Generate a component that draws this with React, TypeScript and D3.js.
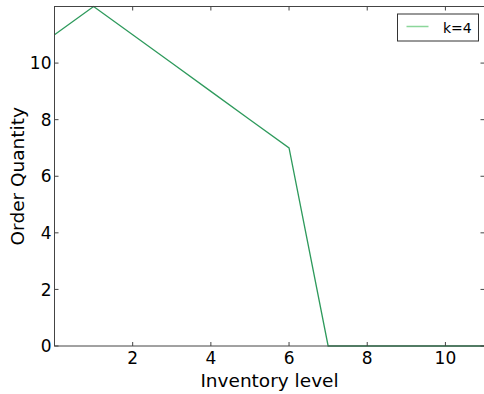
import React, { useRef, useEffect } from 'react';
import * as d3 from 'd3';

const inventory = [0, 1, 2, 3, 4, 5, 6, 7, 8, 9, 10, 11];
const orderQty = [11, 12, 11, 10, 9, 8, 7, 0, 0, 0, 0, 0];
const xTicks = [2, 4, 6, 8, 10];
const yTicks = [0, 2, 4, 6, 8, 10];
const seriesLabel = 'k=4';

const W = 484;
const H = 394;

export default function App() {
  const svgRef = useRef<SVGSVGElement>(null);

  useEffect(() => {
    if (!svgRef.current) return;
    const svg = d3.select(svgRef.current);
    svg.selectAll('*').remove();

    const margin = { top: 6.5, right: -0.5, bottom: 48, left: 54.5 };
    const innerWidth = W - margin.left - margin.right;
    const innerHeight = H - margin.top - margin.bottom;
    const font = 'DejaVu Sans, sans-serif';

    const g = svg.append('g').attr('transform', `translate(${margin.left},${margin.top})`);

    const x = d3.scaleLinear().domain([0, 11]).range([0, innerWidth]);
    const y = d3.scaleLinear().domain([0, 12]).range([innerHeight, 0]);

    // Line
    const line = d3.line<number>()
      .x((_, i) => x(inventory[i]))
      .y(d => y(d));

    g.append('path')
      .datum(orderQty)
      .attr('fill', 'none')
      .attr('stroke', '#2e9a5c')
      .attr('stroke-width', 1.3)
      .attr('d', line);

    // Frame
    g.append('rect')
      .attr('x', 0)
      .attr('y', 0)
      .attr('width', innerWidth)
      .attr('height', innerHeight)
      .attr('fill', 'none')
      .attr('stroke', '#444')
      .attr('stroke-width', 1);

    // Ticks pointing inward
    const tickLen = 4;
    xTicks.forEach(t => {
      g.append('line').attr('x1', x(t)).attr('x2', x(t)).attr('y1', innerHeight).attr('y2', innerHeight - tickLen)
        .attr('stroke', '#444');
      g.append('line').attr('x1', x(t)).attr('x2', x(t)).attr('y1', 0).attr('y2', tickLen)
        .attr('stroke', '#444');
      g.append('text')
        .attr('x', x(t))
        .attr('y', innerHeight + 18)
        .attr('text-anchor', 'middle')
        .attr('font-family', font)
        .attr('font-size', 17)
        .attr('fill', '#000')
        .text(t);
    });
    yTicks.forEach(t => {
      g.append('line').attr('x1', 0).attr('x2', tickLen).attr('y1', y(t)).attr('y2', y(t))
        .attr('stroke', '#444');
      g.append('line').attr('x1', innerWidth).attr('x2', innerWidth - tickLen).attr('y1', y(t)).attr('y2', y(t))
        .attr('stroke', '#444');
      g.append('text')
        .attr('x', -3)
        .attr('y', y(t))
        .attr('dy', '0.36em')
        .attr('text-anchor', 'end')
        .attr('font-family', font)
        .attr('font-size', 17)
        .attr('fill', '#000')
        .text(t);
    });

    // Axis labels
    svg.append('text')
      .attr('x', margin.left + innerWidth / 2)
      .attr('y', 387)
      .attr('text-anchor', 'middle')
      .attr('font-family', font)
      .attr('font-size', 18.5)
      .attr('fill', '#000')
      .text('Inventory level');

    svg.append('text')
      .attr('transform', 'rotate(-90)')
      .attr('x', -(margin.top + innerHeight / 2))
      .attr('y', 24)
      .attr('text-anchor', 'middle')
      .attr('font-family', font)
      .attr('font-size', 18.5)
      .attr('fill', '#000')
      .text('Order Quantity');

    // Legend
    const lg = svg.append('g').attr('transform', 'translate(397.5,14)');
    lg.append('rect')
      .attr('width', 81)
      .attr('height', 27)
      .attr('fill', '#fff')
      .attr('stroke', '#333')
      .attr('stroke-width', 1);
    lg.append('line')
      .attr('x1', 9).attr('x2', 31).attr('y1', 12.5).attr('y2', 12.5)
      .attr('stroke', '#8bd69a')
      .attr('stroke-width', 1.5);
    lg.append('text')
      .attr('x', 45.5)
      .attr('y', 18.5)
      .attr('font-family', font)
      .attr('font-size', 14)
      .attr('fill', '#000')
      .text(seriesLabel);
  }, []);

  return (
    <div style={{ position: 'absolute', left: 0, top: 0, width: W, height: H }}>
      <svg ref={svgRef} width={W} height={H} style={{ display: 'block', background: '#fff' }}></svg>
    </div>
  );
}
